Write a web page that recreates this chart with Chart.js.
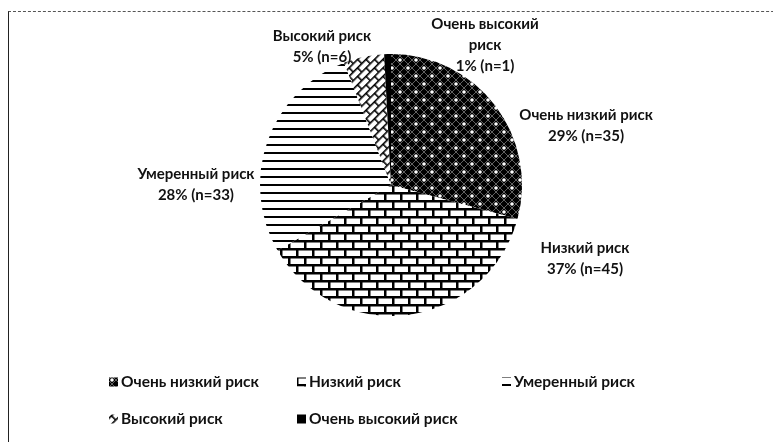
<!DOCTYPE html>
<html><head><meta charset="utf-8">
<script src="https://cdn.jsdelivr.net/npm/chart.js@4.4.0/dist/chart.umd.min.js"></script>
<style>
html,body{margin:0;padding:0;background:#fff;}
#wrap{position:relative;width:773px;height:442px;overflow:hidden;background:#fff;}
#frame{position:absolute;left:8px;top:11px;width:800px;height:500px;border-left:1.5px solid #222;border-top:1px dashed #555;}
canvas{position:absolute;left:0;top:0;}
</style></head><body>
<div id="wrap"><div id="frame"></div><canvas id="c" width="773" height="442"></canvas></div>
<script>
// ---- data ----
const categories = ['Очень низкий риск', 'Низкий риск', 'Умеренный риск', 'Высокий риск', 'Очень высокий риск'];
const counts = [35, 45, 33, 6, 1];
const percents = [29, 37, 28, 5, 1];

// ---- patterns (styles) ----
const mainCtx = document.getElementById('c').getContext('2d');
function mk(w, h, draw) {
  const c = document.createElement('canvas'); c.width = w; c.height = h;
  const g = c.getContext('2d'); draw(g, w, h);
  return mainCtx.createPattern(c, 'repeat');
}
const patVeryLow = mk(16, 16, (g) => {
  g.fillStyle = '#000'; g.fillRect(0, 0, 16, 16);
  g.strokeStyle = 'rgba(255,255,255,0.38)'; g.lineWidth = 1;
  g.beginPath();
  for (let k = -16; k <= 32; k += 8) { g.moveTo(k, 0); g.lineTo(k + 16, 16); g.moveTo(k, 16); g.lineTo(k + 16, 0); }
  g.stroke();
  g.fillStyle = '#fff';
  [[8, 4], [0, 12], [16, 12]].forEach(([x, y]) => { g.beginPath(); g.arc(x, y, 1.8, 0, Math.PI * 2); g.fill(); });
});
const patLow = mk(16, 16, (g) => {
  g.fillStyle = '#fff'; g.fillRect(0, 0, 16, 16);
  g.fillStyle = '#000';
  g.fillRect(0, 0, 16, 2.5); g.fillRect(0, 8, 16, 2.5);
  g.fillRect(0, 0, 2.5, 8); g.fillRect(8, 8, 2.5, 8);
});
const patMod = mk(8, 8, (g) => {
  g.fillStyle = '#fff'; g.fillRect(0, 0, 8, 8);
  g.fillStyle = '#000'; g.fillRect(0, 0, 8, 2);
});
const patHigh = mk(12, 12, (g) => {
  g.fillStyle = '#fff'; g.fillRect(0, 0, 12, 12);
  g.fillStyle = '#000';
  g.fillRect(0, 0, 12, 1.6); g.fillRect(0, 6, 12, 1.6);
  g.fillRect(0, 0, 1.6, 6); g.fillRect(6, 6, 1.6, 6);
});
if (patHigh.setTransform) patHigh.setTransform(new DOMMatrix().rotateSelf(-45));
const patVeryHigh = '#000';
const fills = [patVeryLow, patLow, patMod, patHigh, patVeryHigh];

// ---- plugins ----
function wrapText(ctx, text, maxW) {
  if (!maxW) return [text];
  const words = text.split(' '); const out = []; let cur = '';
  words.forEach(w => { const t = cur ? cur + ' ' + w : w; if (ctx.measureText(t).width > maxW && cur) { out.push(cur); cur = w; } else cur = t; });
  if (cur) out.push(cur); return out;
}
const sliceLabels = {
  id: 'sliceLabels',
  afterDatasetsDraw(chart, args, opts) {
    const meta = chart.getDatasetMeta(0); const ctx = chart.ctx;
    const a0 = meta.data[0]; const cx = a0.x, cy = a0.y, r = a0.outerRadius;
    ctx.save(); ctx.font = opts.font; ctx.fillStyle = '#111'; ctx.textAlign = 'center'; ctx.textBaseline = 'middle';
    meta.data.forEach((arc, i) => {
      const p = opts.positions[i];
      const lines = wrapText(ctx, chart.data.labels[i], opts.wrap[i]).concat([percents[i] + '% (n=' + chart.data.datasets[0].data[i] + ')']);
      const x = cx + p[0] * r; const y0 = cy + p[1] * r - (lines.length - 1) * opts.lineHeight / 2;
      lines.forEach((t, j) => ctx.fillText(t, x, y0 + j * opts.lineHeight));
    });
    ctx.restore();
  }
};
const gridLegend = {
  id: 'gridLegend',
  afterDraw(chart, args, opts) {
    const ctx = chart.ctx; const bg = chart.data.datasets[0].backgroundColor;
    ctx.save(); ctx.font = opts.font; ctx.fillStyle = '#111'; ctx.textBaseline = 'middle'; ctx.textAlign = 'left';
    chart.data.labels.forEach((lab, i) => {
      const col = i % opts.cols.length, row = Math.floor(i / opts.cols.length);
      const x = opts.cols[col], y = opts.rows[row];
      ctx.fillStyle = bg[i]; ctx.fillRect(x, y - opts.box / 2, opts.box, opts.box);
      ctx.fillStyle = '#111'; ctx.fillText(lab, x + opts.box + 3, y);
    });
    ctx.restore();
  }
};

new Chart(document.getElementById('c'), {
  type: 'pie',
  data: { labels: categories, datasets: [{ data: counts, backgroundColor: fills, borderWidth: 0, hoverOffset: 0 }] },
  options: {
    responsive: false, animation: false,
    layout: { padding: { left: 260, right: 251, top: 54, bottom: 126 } },
    plugins: {
      legend: { display: false }, tooltip: { enabled: false },
      sliceLabels: {
        font: 'bold 15px Lato', lineHeight: 21,
        positions: [[1.489, -0.45], [1.481, 0.565], [-1.489, 0.0], [-0.527, -1.053], [0.718, -1.069]],
        wrap: [0, 0, 0, 0, 120]
      },
      gridLegend: { font: 'bold 15.5px Lato', cols: [109, 297, 502], rows: [382, 419], box: 9 }
    }
  },
  plugins: [sliceLabels, gridLegend]
});
</script>
</body></html>
